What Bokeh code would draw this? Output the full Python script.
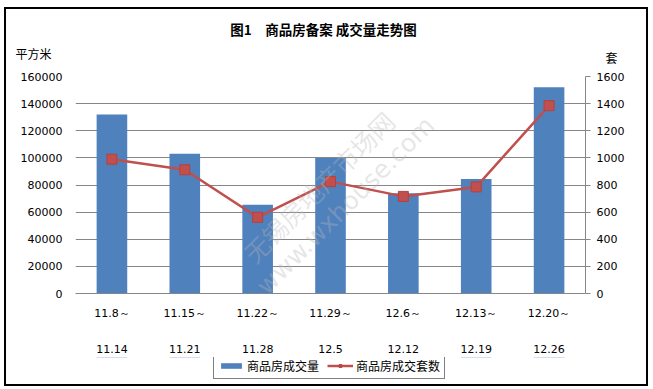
from bokeh.plotting import figure
from bokeh.layouts import column
from bokeh.models import (Range1d, LinearAxis, FixedTicker, Label, Legend,
                          LegendItem, ColumnDataSource, NumeralTickFormatter)
from bokeh.embed import file_html
from bokeh.resources import INLINE

# ---------------- data ----------------
title_text = "图1　商品房备案 成交量走势图"
weeks_start = ["11.8～", "11.15～", "11.22～", "11.29～", "12.6～", "12.13～", "12.20～"]
weeks_end = ["11.14", "11.21", "11.28", "12.5", "12.12", "12.19", "12.26"]
area = [132000, 103000, 65500, 100000, 74000, 84500, 152000]   # 平方米
units = [990, 912, 562, 825, 716, 786, 1385]                    # 套
left_ticks = [0, 20000, 40000, 60000, 80000, 100000, 120000, 140000, 160000]
right_ticks = [0, 200, 400, 600, 800, 1000, 1200, 1400, 1600]
left_unit = "平方米"
right_unit = "套"
series_names = ["商品房成交量", "商品房成交套数"]
watermark = ["无锡房地产市场网", "www.wxhouse.com"]

BLUE = "#4F81BD"
RED = "#C0504D"
GRID = "#868686"
NUM_FONT = "DejaVu Sans"
CJK_FONT = "Noto Sans CJK SC"
W = 640
BL, BR = 69, 61          # side borders of the chart and legend strips


def strip_figure(height, left, right, x_range=None, y_range=None):
    f = figure(width=W, height=height, output_backend="svg", toolbar_location=None,
               x_range=x_range or Range1d(0, 1), y_range=y_range or Range1d(0, 1),
               x_axis_type=None, y_axis_type=None,
               min_border_left=left, min_border_right=right,
               min_border_top=0, min_border_bottom=0)
    f.grid.visible = False
    f.outline_line_color = None
    f.background_fill_color = "white"
    f.border_fill_color = "white"
    return f


# ---------------- header: title and unit labels (frame spans the full strip) ----------------
HEAD_H = 60
head = strip_figure(HEAD_H, 0, 0)
head.frame_align = False
head.add_layout(Label(x=317, y=41, x_units="screen", y_units="screen",
                      text=title_text, text_font=CJK_FONT, text_font_size="13.5px",
                      text_font_style="bold", text_align="center",
                      text_baseline="middle", text_color="#000000"))
head.add_layout(Label(x=27, y=16, x_units="screen", y_units="screen",
                      text=left_unit, text_font=CJK_FONT, text_font_size="12px",
                      text_align="center", text_baseline="middle", text_color="#000000"))
head.add_layout(Label(x=605, y=12, x_units="screen", y_units="screen",
                      text=right_unit, text_font=CJK_FONT, text_font_size="12px",
                      text_align="center", text_baseline="middle", text_color="#000000"))

# ---------------- main chart ----------------
xs = list(range(len(weeks_start)))
src = ColumnDataSource(dict(x=xs, area=area, units=units))

p = figure(width=W, height=288, output_backend="svg", toolbar_location=None,
           x_range=Range1d(-0.5, len(xs) - 0.5),
           y_range=Range1d(left_ticks[0], left_ticks[-1]),
           min_border_left=BL, min_border_right=BR,
           min_border_top=7, min_border_bottom=64)
p.extra_y_ranges = {"units": Range1d(right_ticks[0], right_ticks[-1])}
p.outline_line_color = None
p.background_fill_color = "white"
p.border_fill_color = "white"

p.xgrid.visible = False
p.ygrid.ticker = FixedTicker(ticks=left_ticks)
p.ygrid.grid_line_color = GRID
p.ygrid.grid_line_width = 1

ya = p.yaxis[0]
ya.ticker = FixedTicker(ticks=left_ticks)
ya.formatter = NumeralTickFormatter(format="0")
ya.axis_line_color = None
ya.major_tick_line_color = None
ya.minor_tick_line_color = None
ya.major_tick_out = 0
ya.major_tick_in = 0
ya.major_label_standoff = 13
ya.major_label_text_font = NUM_FONT
ya.major_label_text_font_size = "11px"
ya.major_label_text_color = "#000000"

ra = LinearAxis(y_range_name="units", ticker=FixedTicker(ticks=right_ticks),
                formatter=NumeralTickFormatter(format="0"))
ra.axis_line_color = GRID
ra.major_tick_line_color = GRID
ra.major_tick_in = 0
ra.major_tick_out = 5
ra.minor_tick_line_color = None
ra.major_label_standoff = 6
ra.major_label_text_font = NUM_FONT
ra.major_label_text_font_size = "11px"
ra.major_label_text_color = "#000000"
p.add_layout(ra, "right")

xa = p.xaxis[0]
xa.ticker = FixedTicker(ticks=xs)
xa.major_label_overrides = {i: s for i, s in zip(xs, weeks_start)}
xa.axis_line_color = GRID
xa.major_tick_line_color = None
xa.minor_tick_line_color = None
xa.major_tick_out = 0
xa.major_tick_in = 0
xa.major_label_standoff = 13
xa.major_label_text_font = NUM_FONT
xa.major_label_text_font_size = "11px"
xa.major_label_text_color = "#000000"

xb = LinearAxis(ticker=FixedTicker(ticks=xs))
xb.major_label_overrides = {i: s for i, s in zip(xs, weeks_end)}
xb.axis_line_color = None
xb.major_tick_line_color = None
xb.minor_tick_line_color = None
xb.major_tick_out = 0
xb.major_tick_in = 0
xb.major_label_standoff = 22
xb.major_label_text_font = NUM_FONT
xb.major_label_text_font_size = "11px"
xb.major_label_text_color = "#000000"
p.add_layout(xb, "below")

wm_style = {"text_font_size": "25px", "text_color": "#b8b8b8", "text_alpha": 0.35,
            "angle": 0.785, "text_align": "center", "text_baseline": "middle",
            "x_units": "screen", "y_units": "screen"}
p.add_layout(Label(x=243, y=107, text=watermark[0], text_font=CJK_FONT, **wm_style))
p.add_layout(Label(x=270, y=88, text=watermark[1], text_font=NUM_FONT, **wm_style))

bar_style = dict(fill_color=BLUE, line_color=None)
line_style = dict(line_color=RED, line_width=2.5)
mark_style = dict(marker="square", size=10, fill_color=RED, line_color="#B5403D")

p.vbar(x="x", top="area", width=0.42, source=src, **bar_style)
p.line(x="x", y="units", source=src, y_range_name="units", **line_style)
p.scatter(x="x", y="units", source=src, y_range_name="units", **mark_style)

# ---------------- legend strip ----------------
LEG_H = 27
# same series drawn again, but the strip's y-range lies below every value,
# so only their legend swatches are visible
lf = strip_figure(LEG_H, BL, BR, x_range=Range1d(-0.5, len(xs) - 0.5),
                  y_range=Range1d(-2, -1))
lb = lf.vbar(x="x", top="area", width=0.42, source=src, **bar_style)
ll = lf.line(x="x", y="units", source=src, **line_style)
lm = lf.scatter(x="x", y="units", source=src, **mark_style)
legend = Legend(items=[LegendItem(label=series_names[0], renderers=[lb]),
                       LegendItem(label=series_names[1], renderers=[ll, lm])],
                orientation="horizontal", location=(138, 5))
legend.border_line_color = "#000000"
legend.border_line_width = 1
legend.background_fill_color = "white"
legend.background_fill_alpha = 1
legend.label_text_font = CJK_FONT
legend.label_text_font_size = "12px"
legend.label_text_color = "#000000"
legend.glyph_width = 26
legend.glyph_height = 7
legend.label_height = 12
legend.label_standoff = 3
legend.spacing = 8
legend.padding = 4
legend.margin = 0
lf.add_layout(legend)

page = column(head, p, lf, spacing=0,
              styles={"position": "relative", "left": "6px", "top": "9px",
                      "outline": "2px solid black"})

open("out.html", "w").write(file_html(page, INLINE))
